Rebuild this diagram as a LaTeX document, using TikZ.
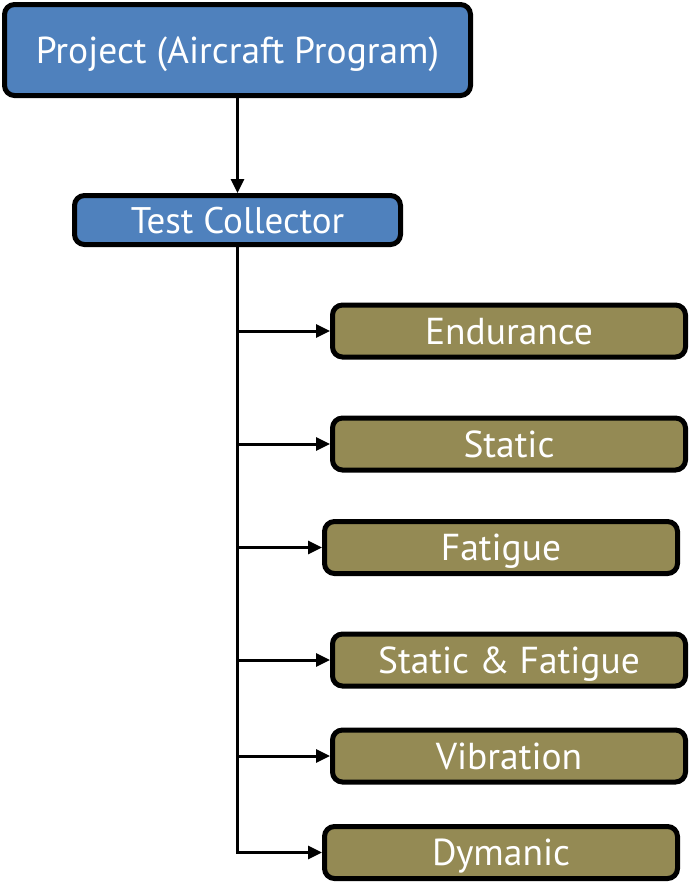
\documentclass[tikz,border=0pt]{standalone}
\usepackage{fontspec}
\setmainfont{PT Sans}
\usepackage{tikz}
\usetikzlibrary{arrows.meta}
\definecolor{projblue}{HTML}{4F81BD}
\definecolor{testolive}{HTML}{948A54}

\begin{document}
\begin{tikzpicture}[x=1pt,y=1pt,line width=3pt,-{Triangle[length=14pt,width=13pt]}]
    \tikzstyle{box}=[draw=black,line width=5pt,rounded corners=10pt,text=white,inner sep=0pt,
        text depth=0pt]
    \tikzstyle{top box}=[box,fill=projblue,minimum width=466pt,minimum height=91pt,font=\fontsize{37.5}{44}\selectfont]
    \tikzstyle{mid box}=[box,fill=projblue,minimum width=326pt,minimum height=49pt,font=\fontsize{37}{40}\selectfont]
    \tikzstyle{test box}=[box,fill=testolive,minimum width=353pt,minimum height=52pt,font=\fontsize{37.5}{40}\selectfont]

    \useasboundingbox (0,0) rectangle (690,-887);

    % Draw the project and the collector
    \node[top box] (P) at (237.5,-50) {Project (Aircraft Program)};
    \node[mid box] (C) at (237.5,-220) {Test Collector};

    % Draw the test nodes
    \foreach \name / \x / \y / \txt in {1/509/-331/Endurance,2/509/-444/Static,
        3/501/-547.5/Fatigue,4/509/-660/Static \& Fatigue,
        5/509/-756/Vibration,6/501/-852.5/Dymanic}
        \node[test box] (T-\name) at (\x,\y) {\txt};

    % Connect the project with the collector
    \draw (P) -- (C);

    % Connect the collector with every test
    \draw (C.south) |- (T-6.west);
    \foreach \dest in {1,...,5}
        \draw (C.south |- T-\dest.west) -- (T-\dest.west);
\end{tikzpicture}
\end{document}
